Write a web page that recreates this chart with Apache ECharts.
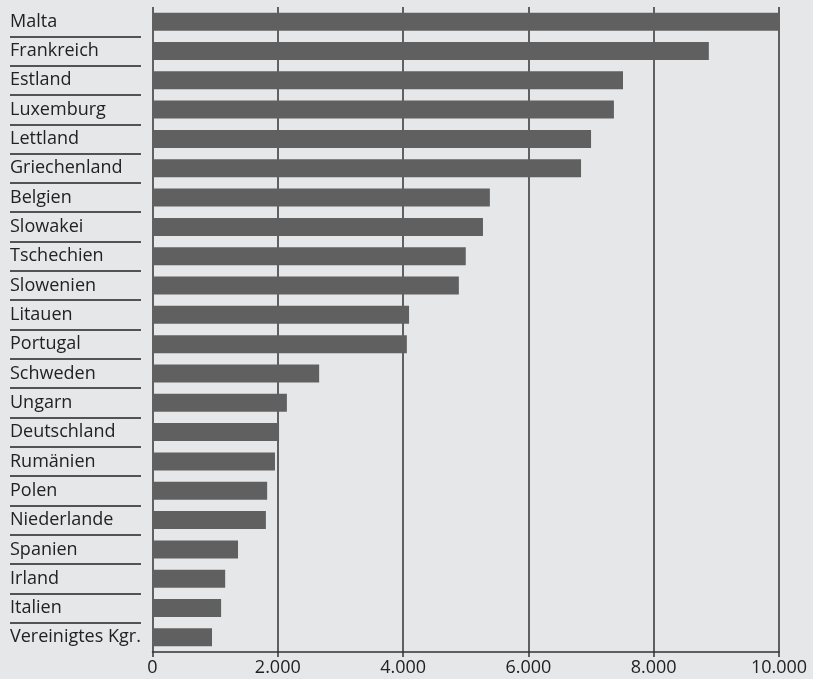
<!DOCTYPE html>
<html>
<head>
<meta charset="utf-8">
<script src="https://cdn.jsdelivr.net/npm/echarts@6/dist/echarts.min.js"></script>
<style>
    html, body { margin: 0; padding: 0; background: #e6e7e9; }
    #chart { width: 813px; height: 679px; }
</style>
</head>
<body>
<div id="chart"></div>
<script>
const countries = ["Malta", "Frankreich", "Estland", "Luxemburg", "Lettland", "Griechenland", "Belgien", "Slowakei",
    "Tschechien", "Slowenien", "Litauen", "Portugal", "Schweden", "Ungarn", "Deutschland", "Rumänien", "Polen",
    "Niederlande", "Spanien", "Irland", "Italien", "Vereinigtes Kgr."];
const values = [10000, 8880, 7510, 7365, 7000, 6840, 5385, 5275, 5000, 4890, 4095, 4060, 2660, 2145, 2020, 1955,
    1830, 1810, 1365, 1160, 1095, 950];
const xTicks = [0, 2000, 4000, 6000, 8000, 10000];

const chart = echarts.init(document.getElementById("chart"));
const font = "'Open Sans', sans-serif";
const plotTop = 7;
const plotHeight = 645;
const band = plotHeight / countries.length;

chart.setOption({
    backgroundColor: "#e6e7e9",
    animation: false,
    grid: [
        {left: 152.5, right: 34, top: plotTop, height: plotHeight},
        // separator lines under the labels
        {left: 10, width: 131, top: plotTop, height: band * (countries.length - 1)}
    ],
    xAxis: [{
        gridIndex: 0,
        type: "value",
        min: xTicks[0],
        max: xTicks[xTicks.length - 1],
        interval: 2000,
        axisLine: {show: true, lineStyle: {color: "#333", width: 1.5}},
        axisTick: {show: true, length: 5, lineStyle: {color: "#333", width: 1.5}},
        splitLine: {show: true, lineStyle: {color: "#333", width: 1.5}},
        axisLabel: {
            color: "#222", fontFamily: font, fontSize: 18, margin: 7,
            formatter: v => v === 0 ? "0" : v.toLocaleString("de-DE")
        }
    }, {
        gridIndex: 1, type: "value", show: false
    }],
    yAxis: [{
        gridIndex: 0,
        type: "category",
        inverse: true,
        data: countries,
        axisLine: {show: false},
        axisTick: {show: false},
        axisLabel: {color: "#222", fontFamily: font, fontSize: 18, align: "left", margin: 142.5}
    }, {
        gridIndex: 1,
        type: "category",
        inverse: true,
        data: countries.slice(0, countries.length - 1),
        axisLine: {show: false},
        axisTick: {show: false},
        axisLabel: {show: false},
        splitLine: {show: true, interval: (index) => index !== 0, lineStyle: {color: "#222", width: 1.5}}
    }],
    series: [{
        type: "bar",
        xAxisIndex: 0,
        yAxisIndex: 0,
        data: values,
        barWidth: 18,
        itemStyle: {color: "#606060"}
    }]
});
</script>
</body>
</html>
